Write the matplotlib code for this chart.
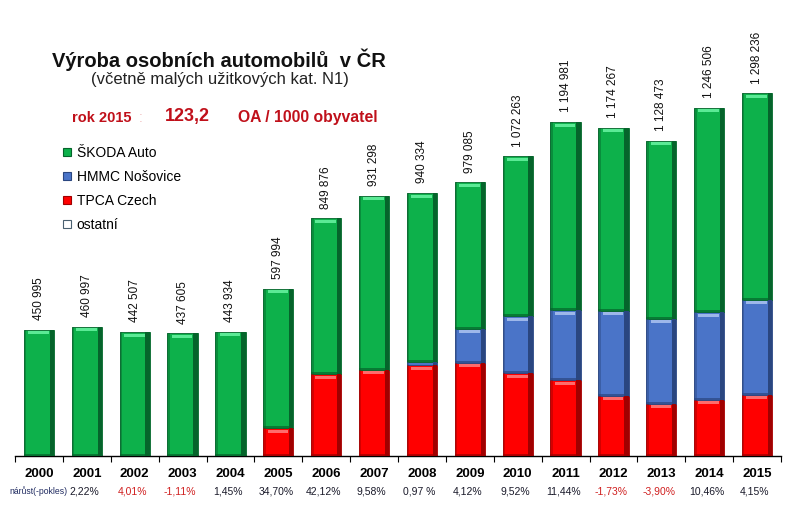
import numpy as np
import matplotlib
matplotlib.use("Agg")
import matplotlib.pyplot as plt
from matplotlib.lines import Line2D

plt.rcParams["font.family"] = ["Liberation Sans", "DejaVu Sans"]

# data
years = list(range(2000, 2016))
total = [450995, 460997, 442507, 437605, 443934, 597994, 849876, 931298,
         940334, 979085, 1072263, 1194981, 1174267, 1128473, 1246506, 1298236]
tpca = [0, 0, 0, 0, 0, 98000, 292000, 308000,
        323000, 332000, 294000, 270000, 215000, 185000, 200000, 218000]
hmmc = [0, 0, 0, 0, 0, 0, 0, 0,
        11000, 122000, 206000, 251000, 303000, 305000, 314000, 341000]
ostatni = [0] * 16
skoda = [t - a - b - c for t, a, b, c in zip(total, tpca, hmmc, ostatni)]
growth = ["2,22%", "4,01%", "-1,11%", "1,45%", "34,70%", "42,12%", "9,58%", "0,97 %",
          "4,12%", "9,52%", "11,44%", "-1,73%", "-3,90%", "10,46%", "4,15%"]
growth_red = [False, True, True, False, False, False, False, False,
              False, False, False, True, True, False, False]

# colours: main, dark edge, light bevel
c_skoda = ("#0DB14B", "#05642B", "#5BEA95")
c_hmmc = ("#4A74C8", "#2A4680", "#9DB7EA")
c_tpca = ("#FF0000", "#A00000", "#FF6B6B")
c_ost = ("#FFFFFF", "#4A6070", "#FFFFFF")

fig = plt.figure(figsize=(8, 5.15), dpi=100)
fig.patch.set_facecolor("white")
ax = fig.add_axes([15 / 800, 1 - 455.5 / 515, 766 / 800, 455.5 / 515])

x = np.arange(len(years))
w = 0.63
py = 1000 / 0.279  # data units per pixel


def bevel_bar(xs, heights, bottoms, cols):
    main, dark, light = cols
    for xi, h, b in zip(xs, heights, bottoms):
        if h <= 0:
            continue
        ax.bar(xi, h, width=w, bottom=b, color=main, edgecolor=dark, linewidth=0.6, zorder=2)
        sw = 0.09
        ax.bar(xi + w / 2 - sw / 2, h, width=sw, bottom=b, color=dark, linewidth=0, zorder=3)
        ax.bar(xi - w / 2 + 0.025, h, width=0.05, bottom=b, color=dark, alpha=0.45, linewidth=0, zorder=3)
        t = min(3 * py, h * 0.25)
        ax.bar(xi - 0.01, t, width=w - 0.2, bottom=b + h - t - min(1.5 * py, h * 0.1),
               color=light, linewidth=0, zorder=3)
        ax.bar(xi, min(2 * py, h * 0.15), width=w, bottom=b, color=dark, alpha=0.7,
               linewidth=0, zorder=3)


bottom = np.zeros(len(years))
for vals, cols in [(tpca, c_tpca), (hmmc, c_hmmc), (ostatni, c_ost), (skoda, c_skoda)]:
    bevel_bar(x, vals, bottom, cols)
    bottom = bottom + np.array(vals)

for xi, t in zip(x, total):
    ax.annotate(f"{t:,}".replace(",", " "), (xi, t), xytext=(0, 7), textcoords="offset points",
                rotation=90, ha="center", va="bottom", fontsize=8.5, color="#111111")

ax.set_xlim(-0.5, len(years) - 0.5)
ax.set_ylim(0, 455.5 * py)
for s in ["left", "right", "top"]:
    ax.spines[s].set_visible(False)
ax.spines["bottom"].set_linewidth(1.0)
ax.set_yticks([])
ax.set_xticks(x)
ax.set_xticklabels([str(y) for y in years], fontsize=9.5, fontweight="bold")
ax.tick_params(axis="x", which="major", length=0, pad=9)
ax.set_xticks(np.arange(-0.5, len(years)), minor=True)
ax.tick_params(axis="x", which="minor", length=4, direction="out", width=0.8)

# growth row
row_y = -(491.5 - 455.5) / 455.5
ax.text(0, row_y, "nárůst(-pokles)", transform=ax.get_xaxis_transform(), ha="center", va="center",
        fontsize=6.2, color="#1F2A60")
for xi, g, red in zip(x[1:], growth, growth_red):
    ax.text(xi - 0.05, row_y, g, transform=ax.get_xaxis_transform(), ha="center", va="center",
            fontsize=7.5, color="#D02020" if red else "#1A1A2A")

# titles
fig.text(219 / 800, 1 - 60 / 515, "Výroba osobních automobilů  v ČR", ha="center", va="center",
         fontsize=14.5, fontweight="bold", color="#111111")
fig.text(220 / 800, 1 - 79 / 515, "(včetně malých užitkových kat. N1)", ha="center", va="center",
         fontsize=12, color="#222222")
dred = "#C0101A"
fig.text(72 / 800, 1 - 118 / 515, "rok 2015", ha="left", va="center", fontsize=10.5,
         fontweight="bold", color=dred)
fig.text(139 / 800, 1 - 118 / 515, ":", ha="left", va="center", fontsize=10,
         color="#F0C0C0")
fig.text(165 / 800, 1 - 117 / 515, "123,2", ha="left", va="center", fontsize=13,
         fontweight="bold", color=dred)
fig.text(238 / 800, 1 - 118 / 515, "OA / 1000 obyvatel", ha="left", va="center", fontsize=11.3,
         fontweight="bold", color=dred)

# legend
handles = [Line2D([], [], marker="s", linestyle="none", markersize=5.5,
                  markerfacecolor=c[0], markeredgecolor=c[1], markeredgewidth=0.8)
           for c in [c_skoda, c_hmmc, c_tpca, c_ost]]
labels = ["ŠKODA Auto", "HMMC Nošovice", "TPCA Czech", "ostatní"]
fig.legend(handles, labels, loc="upper left", bbox_to_anchor=(62 / 800, 1 - 146 / 515),
           frameon=False, fontsize=10, handlelength=0.7, handletextpad=0.35,
           labelspacing=0.72, borderpad=0, borderaxespad=0)

fig.savefig("out.png", dpi=100)
